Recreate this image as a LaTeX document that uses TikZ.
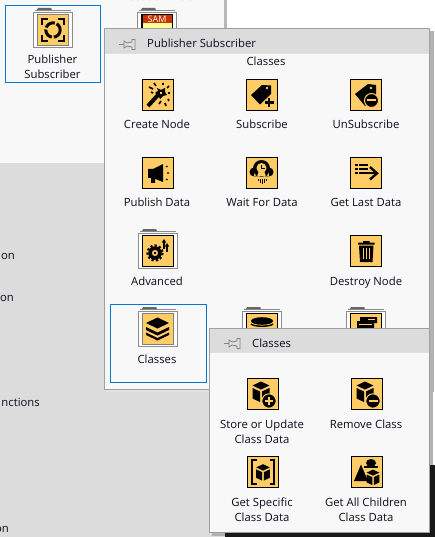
\documentclass[tikz,border=0pt]{standalone}
\usepackage{fontspec}
\setmainfont{Open Sans}
\definecolor{tilefill}{HTML}{FFCC66}
\definecolor{panelbg}{HTML}{F8F8F8}
\definecolor{headbg}{HTML}{DCDCDC}
\definecolor{edgegray}{HTML}{A0A0A0}
\definecolor{selblue}{HTML}{0078D7}
\definecolor{inktext}{HTML}{0C0C1C}
\definecolor{samred}{HTML}{CC3300}
\definecolor{samyellow}{HTML}{FFFF99}
\tikzset{
 lbl/.style={anchor=base,inner sep=0pt,font=\fontsize{11.3}{13}\selectfont,text=inktext},
 head/.style={lbl,anchor=base west},
 selbox/.style={draw=selblue,line width=1pt,fill=panelbg},
 panel/.style={draw=edgegray,line width=1.2pt,fill=panelbg},
 shade/.style={fill=black!30,draw=none},
 ink/.style={draw=black,line width=1.6pt,line cap=butt},
 tile/.pic={\fill[tilefill,draw=black,line width=1pt] (0.5,0.5) rectangle (31.5,31.5);},
 folder/.pic={
   \fill[white,draw=black!45,line width=1pt] (-3.5,-1.5) rectangle (35.5,33.5);
   \draw[black!45,line width=1pt] (-2,-3.5) -- (34,-3.5);
   \fill[black!60] (0,-4) -- (1,-6) -- (14,-6) -- (15,-4) -- cycle;
 },
 grayedge/.pic={\draw[black!50,line width=1pt] (0.5,0.5) rectangle (31.5,31.5);},
 pin/.pic={
   \draw[black!50,line width=1pt] (0,6.5) -- (5,6.5);
   \fill[black!12,draw=black!50,line width=.8pt] (5,3) -- (8,5) -- (13,4) -- (13,1.5) -- (16,1.5) -- (16,11.5) -- (13,11.5) -- (13,9) -- (8,8) -- (5,10) -- cycle;
 },
 target/.pic={
   \draw[black,line width=2pt] (5,11) -- (5,5) -- (11,5) (21,5) -- (27,5) -- (27,11) (27,21) -- (27,27) -- (21,27) (11,27) -- (5,27) -- (5,21);
   \draw[black,line width=3pt,dash pattern=on 10.5pt off 2pt] (16,16) circle (7.2);
 },
 wand/.pic={
   \draw[black,line width=4pt] (6,27) -- (16,16);
   \fill[black] (15,9) -- (19,11) -- (23,9) -- (23,13) -- (25,16) -- (21,17) -- (18,20) -- (16,16) -- (13,14) -- (16,12) -- cycle;
   \fill[tilefill] (18,13) rectangle (20,15);
   \draw[ink] (7,8) -- (11,10) (12,4) -- (14,7) (21,4) -- (21,6) (27,7) -- (25,9) (28,14) -- (26,14) (23,24) -- (24,27) (27,22) -- (26,20) (17,25) -- (19,22) (9,13) -- (11,14);
 },
 subtag/.pic={
   \fill[black,even odd rule] (5,16) -- (16,6) -- (25,6.5) -- (25,15) -- (14,25.5) -- cycle (21,9) circle (1.7);
   \draw[black,line width=2.4pt] (23,19) -- (23,28) (18.5,23.5) -- (27.5,23.5);
 },
 unsubtag/.pic={
   \fill[black,even odd rule] (5,15) -- (18,5) -- (26,6) -- (26,18) -- (15,27) -- cycle (21,9) circle (1.7);
   \fill[black,draw=tilefill,line width=1pt] (21.5,21.5) circle (7);
   \draw[tilefill,line width=2pt] (17,21.5) -- (26,21.5);
 },
 horn/.pic={
   \fill[black] (6,12) -- (11,12) -- (21,7) -- (21,25) -- (11,21) -- (6,21) -- cycle (9,21) -- (13,21) -- (13,26) -- (9,26) -- cycle;
   \draw[black,line width=1.2pt] (24,10) -- (25.5,9) (25,16) -- (27,16) (24,22) -- (25.5,23);
 },
 cloud/.pic={
   \fill[black] (8,15) circle (4.5) (23,15) circle (4.5) (15.5,11.5) circle (8.5) (8,15) rectangle (23,19.5);
   \fill[tilefill] (15.5,11) circle (5);
   \draw[black,line width=1pt] (15.5,8) -- (15.5,11.5) -- (18.5,11.5);
   \draw[black,line width=1pt] (12,22) -- (12,24) (14,22) -- (14,26) (16,22) -- (16,27) (18,22) -- (18,26) (20,22) -- (20,24);
 },
 listarrow/.pic={
   \draw[black,line width=2pt] (5,8) -- (7.5,8) (9,8) -- (18,8) (5,12) -- (7.5,12) (9,12) -- (18,12) (5,16) -- (7.5,16) (9,16) -- (26,16);
   \draw[black,line width=2.4pt] (20,10) -- (27,16.3) -- (20,22.5);
 },
 gearup/.pic={
   \draw[black,line width=2pt,dash pattern=on 2.2pt off 2.2pt] (13,18) circle (7.6);
   \fill[black,even odd rule] (13,18) circle (6.8) (13,18) circle (3.2);
   \fill[black] (13,18) circle (1.4);
   \draw[black,line width=1.4pt] (22,14) -- (22,6) (25,17) -- (25,10);
   \fill[black] (22,4) -- (24.2,7.5) -- (19.8,7.5) -- cycle (25,8) -- (27.2,11.5) -- (22.8,11.5) -- cycle;
 },
 trash/.pic={
   \fill[black] (8,7.5) rectangle (24.5,9.5) (13,6) rectangle (19.5,8) (9,10.5) -- (23.5,10.5) -- (22.5,27) -- (10,27) -- cycle;
   \draw[tilefill,line width=1pt] (13,13) -- (13,24) (16.2,13) -- (16.2,24) (19.5,13) -- (19.5,24);
 },
 layers/.pic={
   \fill[black] (15.5,4.5) -- (27,10) -- (15.5,15.5) -- (4,10) -- cycle;
   \fill[black] (4,14) -- (15.5,19.5) -- (27,14) -- (27,17) -- (15.5,22.5) -- (4,17) -- cycle;
   \fill[black] (4,19.5) -- (15.5,25) -- (27,19.5) -- (27,22) -- (15.5,27.5) -- (4,22) -- cycle;
 },
 diskstack/.pic={
   \fill[black] (16,8) ellipse (11 and 3.8);
   \draw[black,line width=1.4pt] (5,11) .. controls (8,14) and (24,14) .. (27,11);
 },
 winstack/.pic={
   \fill[black] (10,4) rectangle (27,10) (7,8) rectangle (24,20);
   \draw[tilefill,line width=.8pt] (18,6.5) -- (25,6.5) (9,11) -- (22,11);
 },
 cubeshape/.pic={
   \fill[black] (10,1.5) -- (18.5,5.5) -- (10,9.5) -- (1.5,5.5) -- cycle;
   \fill[black] (1.5,8) -- (9,11.5) -- (9,22) -- (1.5,18.5) -- cycle;
   \fill[black] (11,11.5) -- (18.5,8) -- (18.5,18.5) -- (11,22) -- cycle;
 },
 cubeplus/.pic={
   \pic at (4,2) {cubeshape};
   \fill[black,draw=tilefill,line width=1pt] (22,23) circle (7.2);
   \draw[tilefill,line width=1.6pt] (18,23) -- (26,23) (22,19) -- (22,27);
 },
 cubeminus/.pic={
   \pic at (4,2) {cubeshape};
   \fill[black,draw=tilefill,line width=1pt] (22,23) circle (7.2);
   \draw[tilefill,line width=2pt] (17.5,23) -- (26.5,23);
 },
 bracketcube/.pic={
   \draw[black,line width=2.4pt] (9.5,4) -- (5,4) -- (5,28) -- (9.5,28) (22.5,4) -- (27,4) -- (27,28) -- (22.5,28);
   \pic[scale=.8] at (8,7) {cubeshape};
 },
 allkids/.pic={
   \fill[black] (10,8.5) -- (17,25) -- (3,25) -- cycle;
   \fill[black] (20,7) ellipse (5 and 4);
   \draw[black,line width=1.2pt] (13,11) -- (27,11);
   \pic[scale=.75] at (14.5,12.5) {cubeshape};
 },
}
\begin{document}
\begin{tikzpicture}[x=1pt,y=-1pt]
\useasboundingbox (0,0) rectangle (435,537);
\clip (0,0) rectangle (435,537);
% desktop and back window
\fill[white] (0,0) rectangle (435,537);
\fill[panelbg] (0,0) rectangle (224,163);
\fill[headbg] (0,163) rectangle (224,537);
\fill[black!28] (224,0) rectangle (227,163);
\fill[headbg] (224,163) rectangle (225,537);
\fill[black!90] (225,465) rectangle (435,537);
% left clipped labels
\node[lbl,anchor=base east] (leftA) at (15,259) {ion};
\node[lbl,anchor=base east] (leftB) at (14,301) {on};
\node[lbl,anchor=base east] (leftC) at (40,406) {nctions};
\node[lbl,anchor=base east] (leftD) at (9,532) {on};
% selected tile of the back window
\path[selbox] (5.5,5.5) rectangle (100.5,83);
\pic at (37,14) {folder};
\pic at (37,14) {tile};
\pic at (37,14) {grayedge};
\pic at (37,14) {target};
\node[lbl] (pubA) at (52.5,64) {Publisher};
\node[lbl] (pubB) at (52.5,79) {Subscriber};
\node[lbl] (execT) at (157,1) {Execution Track};
\pic at (141,14) {folder};
\pic at (141,14) {tile};
\fill[black] (141,14) rectangle (173,46);
\fill[samred] (142.5,15) rectangle (171.5,23);
\fill[samyellow] (142.5,23) rectangle (171.5,45);
\node[lbl,text=white,font=\fontsize{9}{10}\selectfont] (sam) at (157,22.5) {SAM};
% main palette
\fill[shade] (427,31) rectangle (433.5,392);
\fill[black!12] (106,390) rectangle (222,392);
\path[panel] (104.6,28.6) rectangle (429.5,389.5);
\fill[headbg] (105.2,29.2) rectangle (428.9,53);
\draw[white!88!black,line width=.8pt] (105.2,53) -- (428.9,53);
\pic at (119,38) {pin};
\node[head] (mainT) at (147,48) {Publisher Subscriber};
\node[lbl] (classT) at (266,66) {Classes};
\pic at (142,79) {tile}; \pic at (142,79) {wand};
\node[lbl] (l1) at (157,129) {Create Node};
\pic at (246,79) {tile}; \pic at (246,79) {subtag};
\node[lbl] (l2) at (262,129) {Subscribe};
\pic at (350,79) {tile}; \pic at (350,79) {unsubtag};
\node[lbl] (l3) at (366,129) {UnSubscribe};
\pic at (142,157) {tile}; \pic at (142,157) {horn};
\node[lbl] (l4) at (157,207) {Publish Data};
\pic at (246,157) {tile}; \pic at (246,157) {cloud};
\node[lbl] (l5) at (262,207) {Wait For Data};
\pic at (350,157) {tile}; \pic at (350,157) {listarrow};
\node[lbl] (l6) at (366,207) {Get Last Data};
\pic at (142,235) {folder}; \pic at (142,235) {tile}; \pic at (142,235) {gearup};
\node[lbl] (l7) at (157,285) {Advanced};
\pic at (350,235) {tile}; \pic at (350,235) {trash};
\node[lbl] (l8) at (366,285) {Destroy Node};
\path[selbox] (110.5,304.5) rectangle (206,382.5);
\pic at (142,313) {folder}; \pic at (142,313) {tile}; \pic at (142,313) {grayedge}; \pic at (142,313) {layers};
\node[lbl] (l9) at (157,363) {Classes};
\pic at (246,313) {folder}; \pic at (246,313) {tile}; \pic at (246,313) {diskstack};
\pic at (350,313) {folder}; \pic at (350,313) {tile}; \pic at (350,313) {winstack};
% classes palette
\fill[shade] (428,331) rectangle (433,465);
\fill[black!30] (212,533) rectangle (225,535.5);
\path[panel] (209.6,328.6) rectangle (429.5,532.5);
\fill[headbg] (210.2,329.2) rectangle (428.9,352);
\draw[white!88!black,line width=.8pt] (210.2,352) -- (428.9,352);
\pic at (224,337) {pin};
\node[head] (subT) at (252,347) {Classes};
\pic at (247,378) {tile}; \pic at (247,378) {cubeplus};
\node[lbl] (s1) at (262,428) {Store or Update};
\node[lbl] (s1b) at (262,443) {Class Data};
\pic at (351,378) {tile}; \pic at (351,378) {cubeminus};
\node[lbl] (s2) at (366,428) {Remove Class};
\pic at (247,456) {tile}; \pic at (247,456) {bracketcube};
\node[lbl] (s3) at (262,506) {Get Specific};
\node[lbl] (s3b) at (262,521) {Class Data};
\pic at (351,456) {tile}; \pic at (351,456) {allkids};
\node[lbl] (s4) at (366,506) {Get All Children};
\node[lbl] (s4b) at (366,521) {Class Data};
\end{tikzpicture}
\end{document}
